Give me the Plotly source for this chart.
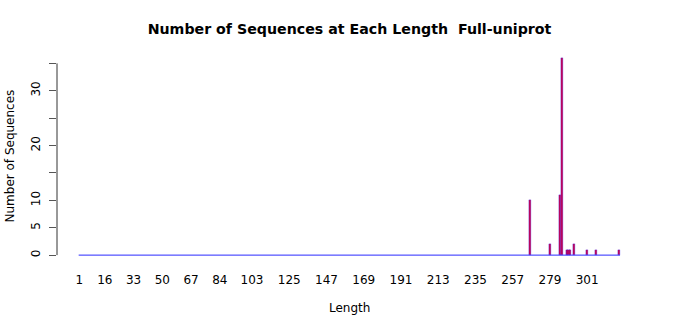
import plotly.graph_objects as go

# ---- data ----
length_min = 1
length_max = 320
bar_lengths = [267, 279, 285, 286, 289, 290, 291, 293, 301, 306, 320]
bar_counts = [10, 2, 11, 36, 1, 1, 1, 2, 1, 1, 1]
x_tick_labels = [1, 16, 33, 50, 67, 84, 103, 125, 147, 169, 191, 213, 235, 257, 279, 301]
y_tick_vals = [0, 5, 10, 15, 20, 25, 30, 35]
y_tick_text = ["0", "5", "10", "", "20", "", "30", ""]

title_text = "Number of Sequences at Each Length  Full-uniprot"
x_title = "Length"
y_title = "Number of Sequences"

BAR_W = 1.3
FONT = "DejaVu Sans"

fig = go.Figure()

# baseline drawn by zero-height bar borders in the original
fig.add_trace(go.Scatter(
    x=[length_min - 0.42, length_max + 0.42], y=[0, 0],
    mode="lines", line=dict(color="#2a2aff", width=1),
    hoverinfo="skip", showlegend=False,
))

fig.add_trace(go.Bar(
    x=bar_lengths, y=bar_counts, width=BAR_W,
    marker=dict(color="#c8004e", line=dict(color="#3030ff", width=0.3)),
    showlegend=False,
))

fig.update_layout(
    width=700, height=315,
    margin=dict(l=57, r=57.5, t=50, b=52),
    paper_bgcolor="white", plot_bgcolor="white",
    font=dict(family=FONT, size=12, color="black"),
    title=dict(text="<b>" + title_text + "</b>", x=0.5, xref="paper",
               y=1 - 29 / 315, yref="container", yanchor="middle",
               font=dict(family=FONT, size=14.2, color="black")),
    bargap=0,
)

fig.update_xaxes(
    range=[-12.22, 333.38], showgrid=False, zeroline=False, showline=False,
    tickmode="array", tickvals=x_tick_labels, ticktext=[str(v) for v in x_tick_labels],
    ticks="", ticklabelstandoff=8, tickfont=dict(size=12, family=FONT),
)
fig.update_yaxes(
    range=[-1.44, 37.44], showgrid=False, zeroline=False, showline=False,
    tickmode="array", tickvals=y_tick_vals, ticktext=y_tick_text,
    ticks="outside", ticklen=7, tickcolor="#555", tickwidth=1,
    tickangle=-90, ticklabelstandoff=4, tickfont=dict(size=12, family=FONT),
)

# y axis line spans only first..last tick, as in the original
fig.add_shape(type="line", xref="paper", yref="y", x0=0, x1=0,
              y0=y_tick_vals[0], y1=y_tick_vals[-1],
              line=dict(color="#333", width=1))

fig.add_annotation(text=x_title, xref="paper", yref="paper", x=0.5, y=0,
                   yshift=-(308 - 263), showarrow=False, yanchor="middle",
                   font=dict(family=FONT, size=12, color="black"))
fig.add_annotation(text=y_title, xref="paper", yref="paper", x=0, y=0.5,
                   xshift=-(57 - 9), showarrow=False, textangle=-90,
                   xanchor="center", font=dict(family=FONT, size=12, color="black"))

fig.write_html("out.html")
